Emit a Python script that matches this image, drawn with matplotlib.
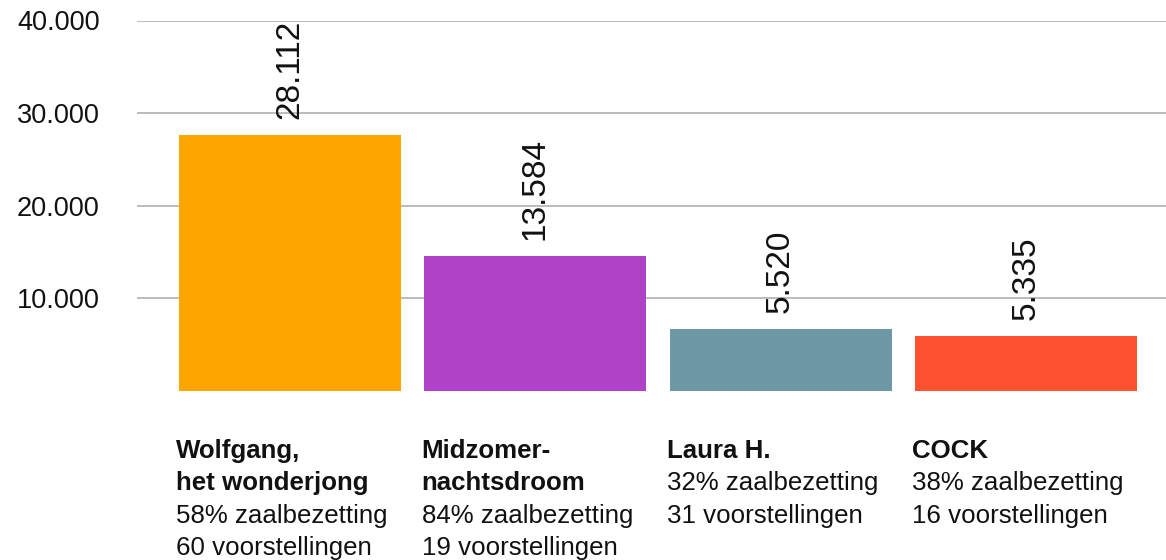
import matplotlib
matplotlib.use("Agg")
import matplotlib.pyplot as plt
from matplotlib import font_manager
from matplotlib.ticker import FuncFormatter, FixedLocator

# ---- data ----
titles = [["Wolfgang,", "het wonderjong"], ["Midzomer-", "nachtsdroom"], ["Laura H."], ["COCK"]]
occupancy = ["58% zaalbezetting", "84% zaalbezetting", "32% zaalbezetting", "38% zaalbezetting"]
performances = ["60 voorstellingen", "19 voorstellingen", "31 voorstellingen", "16 voorstellingen"]
visitors = [28112, 13584, 5520, 5335]            # printed values
bar_heights = [27650, 14600, 6700, 5980]          # heights as drawn in the reference
colors = ["#ffa500", "#b042c8", "#6f98a6", "#ff5030"]
yticks = [10000, 20000, 30000, 40000]


def dotfmt(v, pos=None):
    return f"{int(v):,}".replace(",", ".")


installed = {f.name for f in font_manager.fontManager.ttflist}
if "Liberation Sans Narrow" in installed:
    val_family, val_size = "Liberation Sans Narrow", 27.5
else:
    val_family, val_size = "Liberation Sans", 24

W, H = 1166, 560
fig = plt.figure(figsize=(W / 100, H / 100), dpi=100)
ax = fig.add_axes([137 / W, 1 - 391 / H, 1 - 137 / W, (391 - 20.5) / H])

x = list(range(len(visitors)))
bar_w = 0.905
ax.bar(x, bar_heights, width=bar_w, color=colors, zorder=2)

ax.set_xlim(-0.624, 3.571)
ax.set_ylim(0, 40000)
ax.yaxis.set_major_locator(FixedLocator(yticks))
ax.yaxis.set_major_formatter(FuncFormatter(dotfmt))
ax.set_xticks([])
ax.tick_params(axis="y", length=0, pad=27, labelsize=19.5, labelcolor="#111111")
for lbl in ax.get_yticklabels():
    lbl.set_fontfamily("Liberation Sans")
ax.grid(axis="y", color="#aaaaaa", linewidth=1.1, zorder=0)
ax.set_axisbelow(True)
for s in ax.spines.values():
    s.set_visible(False)

# value labels
for xi, h, v in zip(x, bar_heights, visitors):
    ax.annotate(dotfmt(v), xy=(xi, h), xytext=(0, 11.5), textcoords="offset points",
                rotation=90, ha="center", va="bottom", fontsize=val_size,
                family=val_family, color="#111111", zorder=3)

# category labels below bars
base_offsets = [48.2, 71.3, 95.0, 118.3]  # points below zero line (baselines)
for xi, tl, occ, perf in zip(x, titles, occupancy, performances):
    lines = [(t, "bold") for t in tl] + [(occ, "normal"), (perf, "normal")]
    for (txt, wt), off in zip(lines, base_offsets):
        ax.annotate(txt, xy=(xi - bar_w / 2, 0), xytext=(-2, -off), textcoords="offset points",
                    ha="left", va="baseline", fontsize=18.6, fontweight=wt,
                    family="Liberation Sans", color="#111111", annotation_clip=False)

fig.savefig("out.png", dpi=100)
